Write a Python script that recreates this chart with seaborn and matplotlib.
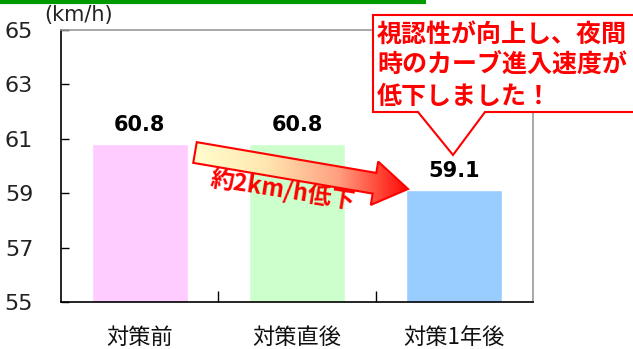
import numpy as np
import pandas as pd
import matplotlib
matplotlib.use("Agg")
import matplotlib.pyplot as plt
import seaborn as sns
from matplotlib.patches import Polygon
from matplotlib.colors import LinearSegmentedColormap

categories = ["対策前", "対策直後", "対策1年後"]
speeds = [60.8, 60.8, 59.1]
bar_colors = ["#FFCCFF", "#CCFFCC", "#99CCFF"]
yticks = [55, 57, 59, 61, 63, 65]
unit_label = "(km/h)"
arrow_label = "約2km/h低下"
callout_lines = ["視認性が向上し、夜間", "時のカーブ進入速度が", "低下しました！"]

sns.set_theme(style="white")
plt.rcParams['font.family'] = ['Noto Sans CJK JP', 'DejaVu Sans']

W, H = 633, 349
fig = plt.figure(figsize=(W / 100, H / 100), dpi=100)
ax = fig.add_axes([61 / W, 1 - 302 / H, (533 - 61) / W, (302 - 30) / H])

df = pd.DataFrame({"cat": categories, "speed": speeds})
sns.barplot(data=df, x="cat", y="speed", hue="cat", palette=bar_colors,
            width=0.61, ax=ax, legend=False, saturation=1)

ax.set_ylim(55, 65)
ax.set_xlim(-0.5, len(categories) - 0.5)
ax.set_yticks(yticks)
ax.set_yticklabels([str(v) for v in yticks], fontsize=16, color="#222222",
                   family=["DejaVu Sans"])
ax.set_xticks(range(len(categories)))
ax.set_xticklabels(categories, fontsize=16, color="#111111")
ax.set_xlabel("")
ax.set_ylabel("")
ax.tick_params(axis="y", direction="in", length=6, width=1, color="black", pad=20, left=True)
ax.tick_params(axis="x", length=0, pad=17)
ax.set_xticks([0.5, 1.5], minor=True)
ax.tick_params(axis="x", which="minor", direction="in", length=8, width=1, color="black", bottom=True)

for s in ["left", "bottom"]:
    ax.spines[s].set_color("black")
    ax.spines[s].set_linewidth(1.2)
for s in ["top", "right"]:
    ax.spines[s].set_color("#999999")
    ax.spines[s].set_linewidth(1.2)

for i, v in enumerate(speeds):
    ax.text(i, v + 0.35, f"{v}", ha="center", va="bottom", fontsize=15,
            fontweight="bold", color="black", family=["DejaVu Sans"])

# overlay in pixel coordinates
ov = fig.add_axes([0, 0, 1, 1], facecolor="none")
ov.set_xlim(0, W)
ov.set_ylim(H, 0)
ov.axis("off")

ov.plot([0, 426], [1.5, 1.5], color="#009900", lw=3, solid_capstyle="butt")

ov.text(44, 15, unit_label, fontsize=15, color="#222222", va="center", ha="left",
        family=["DejaVu Sans"])

# gradient arrow
tail = np.array([195.0, 152.5])
tip = np.array([408.0, 189.0])
d = tip - tail
L = np.hypot(*d)
u = d / L
n = np.array([-u[1], u[0]])
sw, hw, hl = 10.5, 22.0, 34.0
base = tip - u * hl
pts = [tail + n * sw, base + n * sw, base + n * hw, tip,
       base - n * hw, base - n * sw, tail - n * sw]
arrow_poly = Polygon(pts, closed=True, facecolor="none", edgecolor="#FF0000", lw=1.5, zorder=6)
ov.add_patch(arrow_poly)
cmap = LinearSegmentedColormap.from_list("g", ["#FFFFD0", "#FFE8B0", "#FFA080", "#FF0000"])
grad = np.linspace(0, 1, 256).reshape(1, -1)
im = ov.imshow(grad, cmap=cmap, extent=[190, 412, 215, 135], aspect="auto", zorder=5)
clip = Polygon(pts, closed=True, transform=ov.transData)
im.set_clip_path(clip)
ov.set_xlim(0, W)
ov.set_ylim(H, 0)

ov.text(283, 190, arrow_label, fontsize=17, fontweight="bold", color="#FF0000",
        rotation=-9, ha="center", va="center", zorder=7,
        family=["Noto Sans CJK JP", "DejaVu Sans"])

# callout
cx0, cy0, cx1, cy1 = 373, 15, 640, 112
callout = Polygon([(cx0, cy0), (cx1, cy0), (cx1, cy1), (485, cy1), (453, 155),
                   (418, cy1), (cx0, cy1)], closed=True, facecolor="white",
                  edgecolor="#FF0000", lw=1.5, zorder=8)
ov.add_patch(callout)
for k, line in enumerate(callout_lines):
    ov.text(377, 35 + 31 * k, line, fontsize=18, fontweight="bold", color="#FF0000",
            ha="left", va="center", zorder=9)

fig.savefig("out.png", dpi=100)
